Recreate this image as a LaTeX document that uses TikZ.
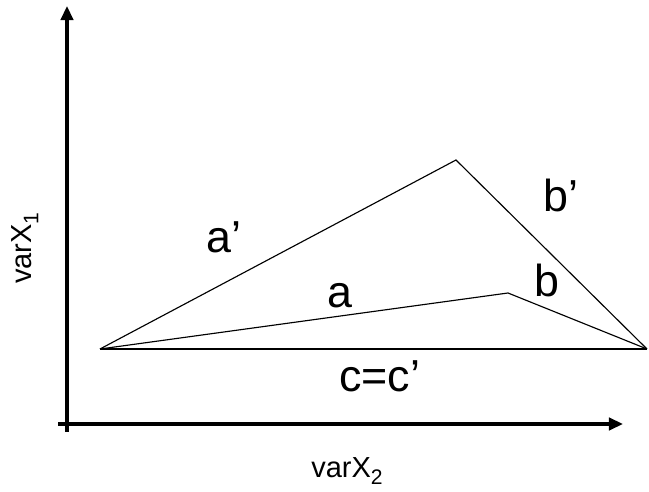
\documentclass[tikz,border=0pt]{standalone}
\usepackage{fontspec}
\setmainfont{Liberation Sans}
\usepackage{tikz}
\usetikzlibrary{arrows.meta}

\newcommand{\lowsub}[1]{\raisebox{-0.45ex}{\fontsize{12}{14}\selectfont #1}}

\tikzset{
  axis/.style={line width=2pt, -{Triangle[length=8pt, width=7pt]}},
  side/.style={line width=0.65pt},
  lbl/.style={anchor=base west, inner sep=0pt, font=\fontsize{25.5}{30}\selectfont},
  axlbl/.style={inner sep=0pt, font=\fontsize{16.5}{20}\selectfont}
}

\begin{document}
\begin{tikzpicture}
  \useasboundingbox (0,0) rectangle (12.98,9.84);
  % axes
  \coordinate (ybot) at (1.34,1.20);
  \coordinate (ytop) at (1.34,9.72);
  \coordinate (xleft) at (1.16,1.36);
  \coordinate (xright) at (12.46,1.36);
  \draw[axis] (ybot) -- (ytop);
  \draw[axis] (xleft) -- (xright);
  % triangles
  \coordinate (A) at (2.00,2.86);
  \coordinate (C) at (12.94,2.86);
  \coordinate (Bp) at (9.12,6.64);
  \coordinate (B) at (10.16,3.98);
  \draw[line width=1.3pt] (A) -- (C);
  \draw[side] (A) -- (Bp) -- (C);
  \draw[side] (A) -- (B) -- (C);
  % labels
  \node[lbl] (ap) at (4.12,4.78) {a'};
  \node[lbl] (bp) at (10.86,5.60) {b'};
  \node[lbl] (a) at (6.54,3.68) {a};
  \node[lbl] (b) at (10.68,3.90) {b};
  \node[lbl] (c) at (6.78,2.00) {c=c'};
  \node[axlbl, anchor=base west] (xlab) at (6.22,0.28) {varX\lowsub{2}};
  \node[axlbl, rotate=90] (ylab) at (0.50,4.88) {varX\lowsub{1}};
\end{tikzpicture}
\end{document}
